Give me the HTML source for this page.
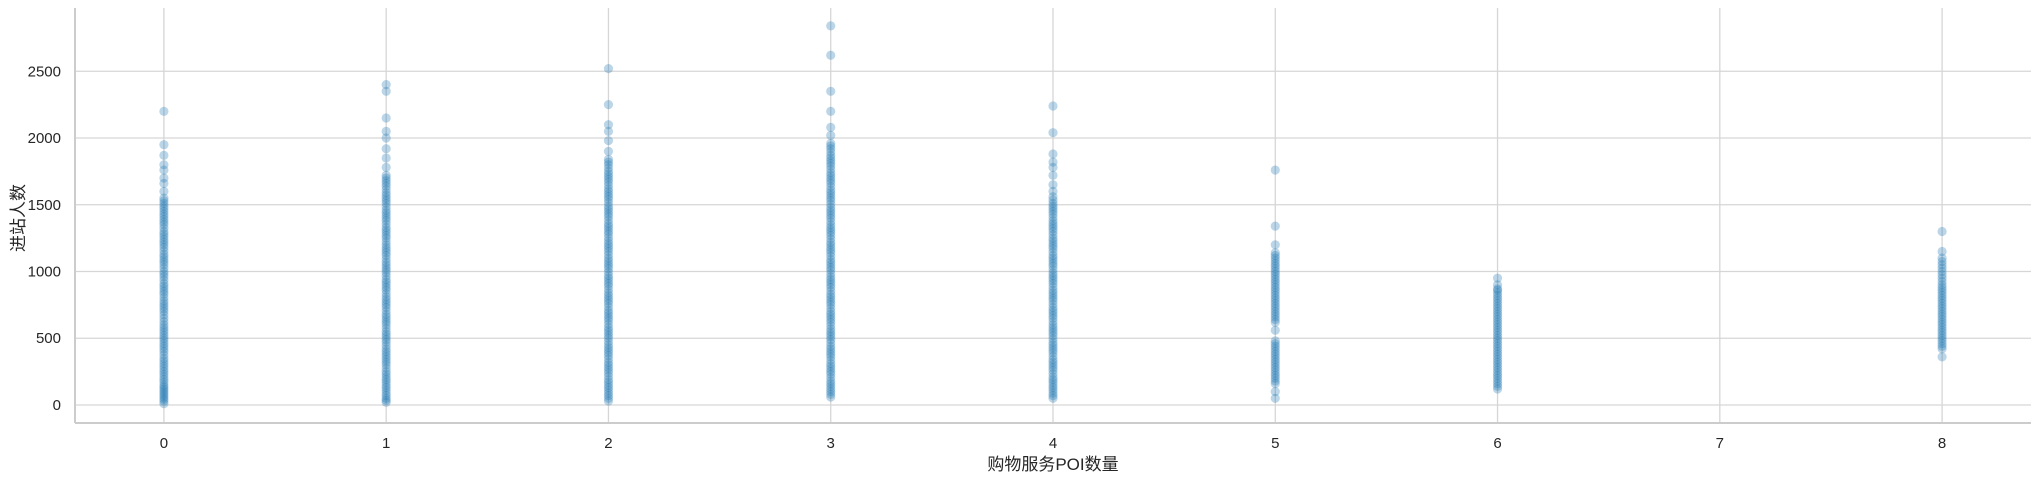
<!DOCTYPE html>
<html><head><meta charset="utf-8">
<style>
html,body{margin:0;padding:0;background:#fff;}
svg{display:block;font-family:"Liberation Sans","Noto Sans CJK SC",sans-serif;}
</style></head>
<body>
<svg id="chart" width="2041" height="480">
<g id="grid"></g>
<g id="points"></g>
<g id="axes"></g>
</svg>
<script>
const categories = [0,1,2,3,4,5,6,8];
const col0 = [10,30,45,60,75,90,105,120,135,150,170,190,210,230,250,270,290,310,330,350,375,400,420,440,460,480,500,520,540,560,580,600,625,650,675,700,720,740,760,780,805,830,850,870,890,910,935,960,980,1000,1025,1050,1070,1090,1110,1130,1155,1180,1200,1220,1240,1260,1280,1300,1325,1350,1370,1390,1410,1430,1450,1470,1490,1510,1530,1550,1600,1660,1700,1760,1800,1870,1950,2200];
const col1 = [20,35,50,70,90,110,130,150,170,190,210,230,250,275,300,320,340,360,380,400,420,445,470,490,510,530,550,575,600,620,640,660,680,705,730,750,770,790,810,835,860,880,900,920,940,965,990,1010,1030,1050,1070,1095,1120,1140,1160,1180,1200,1225,1250,1270,1290,1310,1330,1355,1380,1400,1420,1440,1460,1485,1510,1530,1550,1570,1590,1615,1640,1660,1680,1700,1720,1780,1850,1920,2000,2050,2150,2350,2400];
const col2 = [30,50,70,90,110,130,150,170,190,215,240,260,280,300,320,345,370,390,410,430,450,475,500,520,540,560,580,605,630,650,670,690,710,735,760,780,800,820,840,865,890,910,930,950,970,995,1020,1040,1060,1080,1100,1125,1150,1170,1190,1210,1230,1255,1280,1300,1320,1340,1360,1385,1410,1430,1450,1470,1490,1515,1540,1560,1580,1600,1620,1645,1670,1690,1710,1730,1750,1775,1800,1820,1840,1900,1980,2050,2100,2250,2520];
const col3 = [60,80,100,120,140,160,180,205,230,250,270,290,310,335,360,380,400,420,440,465,490,510,530,550,570,595,620,640,660,680,700,725,750,770,790,810,830,855,880,900,920,940,960,985,1010,1030,1050,1070,1090,1115,1140,1160,1180,1200,1220,1245,1270,1290,1310,1330,1350,1375,1400,1420,1440,1460,1480,1505,1530,1550,1570,1590,1610,1635,1660,1680,1700,1720,1740,1765,1790,1810,1830,1850,1870,1895,1920,1940,1960,2020,2080,2200,2350,2620,2840];
const col4 = [50,70,90,110,130,150,170,190,210,235,260,280,300,320,340,365,390,410,430,450,470,495,520,540,560,580,600,625,650,670,690,710,730,755,780,800,820,840,860,885,910,930,950,970,990,1015,1040,1060,1080,1100,1120,1145,1170,1190,1210,1230,1250,1275,1300,1320,1340,1360,1380,1405,1430,1450,1470,1490,1510,1535,1560,1600,1650,1720,1780,1820,1880,2040,2240];
const col5 = [50,100,160,180,200,220,240,260,280,300,320,340,360,380,400,420,440,460,480,560,620,640,660,680,700,720,740,760,780,800,820,840,860,880,900,920,940,960,980,1000,1020,1040,1060,1080,1100,1120,1140,1200,1340,1760];
const col6 = [120,140,160,180,200,220,240,260,280,300,320,340,360,380,400,420,440,460,480,500,520,540,560,580,600,620,640,660,680,700,720,740,760,780,800,820,840,860,870,900,950];
const col8 = [360,420,440,460,480,500,520,540,560,580,600,620,640,660,680,700,720,740,760,780,800,820,840,860,880,900,925,950,975,1000,1025,1050,1075,1100,1150,1300];
const series = [col0,col1,col2,col3,col4,col5,col6,col8];
const xTicks = [0,1,2,3,4,5,6,7,8];
const yTicks = [0,500,1000,1500,2000,2500];

const L=75,R=2031,T=8,B=423;
const xMin=-0.4,xMax=8.4,yMin=-135,yMax=2974;
const sx=v=>L+(v-xMin)/(xMax-xMin)*(R-L);
const sy=v=>B-(v-yMin)/(yMax-yMin)*(B-T);
const NS="http://www.w3.org/2000/svg";
function mk(tag,attrs,parent){const e=document.createElementNS(NS,tag);for(const k in attrs)e.setAttribute(k,attrs[k]);parent.appendChild(e);return e;}
const grid=document.getElementById('grid'),pts=document.getElementById('points'),axes=document.getElementById('axes');

xTicks.forEach(t=>{
  const g=mk('line',{x1:sx(t),x2:sx(t),y1:T,y2:B,stroke:'#d6d6d6','stroke-width':1.3},grid);
  
  
  const tx=mk('text',{x:sx(t),y:448,'text-anchor':'middle','font-size':15,fill:'#262626'},axes);
  tx.textContent=t;
  
  
});
yTicks.forEach(t=>{
  const g=mk('line',{x1:L,x2:R,y1:sy(t),y2:sy(t),stroke:'#d6d6d6','stroke-width':1.3},grid);
  
  
  const tx=mk('text',{x:61,y:sy(t)+5,'text-anchor':'end','font-size':15,fill:'#262626'},axes);
  tx.textContent=t;
  
  
});
series.forEach((vals,i)=>{
  vals.forEach(v=>{
    const c=mk('circle',{cx:sx(categories[i]),cy:sy(v),r:4.6,fill:'#1f77b4','fill-opacity':0.3},pts);
    
    
  });
});
const ls=mk('line',{x1:L,x2:L,y1:T,y2:B,stroke:'#cccccc','stroke-width':2},axes);


const bs=mk('line',{x1:L,x2:R,y1:B,y2:B,stroke:'#cccccc','stroke-width':2},axes);


const xl=mk('text',{x:(L+R)/2,y:470,'text-anchor':'middle','font-size':17,fill:'#262626'},axes);
xl.textContent='购物服务POI数量';


const yl=mk('text',{x:0,y:0,'text-anchor':'middle','font-size':17,fill:'#262626',transform:'translate(24,218) rotate(-90)'},axes);
yl.textContent='进站人数';


</script>
</body></html>
